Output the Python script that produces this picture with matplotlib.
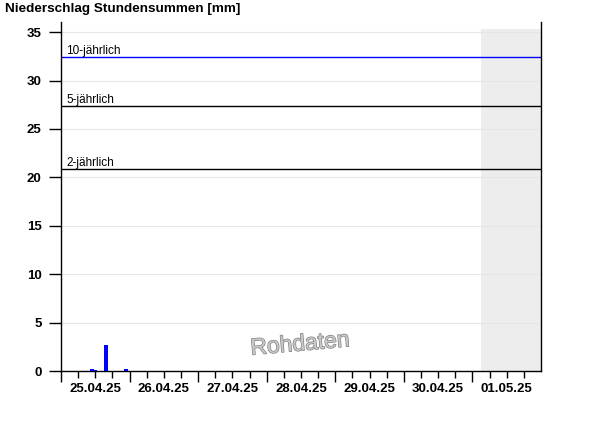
import matplotlib
matplotlib.use("Agg")
import matplotlib.pyplot as plt
import matplotlib.patheffects as pe
from matplotlib.transforms import blended_transform_factory

plt.rcParams['font.family'] = ['Liberation Sans', 'DejaVu Sans']

# Data (x in hours since 25.04.25 00:00)
bar_hours = [10, 11, 15, 22]
bar_values = [0.2, 0.1, 2.7, 0.2]
day_labels = ["25.04.25", "26.04.25", "27.04.25", "28.04.25", "29.04.25", "30.04.25", "01.05.25"]
threshold_names = ["2-jährlich", "5-jährlich", "10-jährlich"]
threshold_values = [20.85, 27.35, 32.4]
threshold_colors = ["black", "black", "#0000ff"]
forecast_start_hour = 147  # 01.05.25 03:00
n_days = 7

fig = plt.figure(figsize=(6.0, 4.26), dpi=100)
ax = fig.add_axes([61/600, 1-371/426, 480/600, (371-22)/426])

ax.set_xlim(0, n_days)
ax.set_ylim(0, 36.05)

# forecast shading
ax.axvspan(forecast_start_hour/24, n_days, ymin=0, ymax=35.3/36.05, color='#ededed', lw=0, zorder=0)

# grid
for v in range(5, 40, 5):
    ax.axhline(v, color='#e6e6e6', lw=0.8, zorder=0.5)

# bars
ax.bar([h/24 for h in bar_hours], bar_values, width=1.45/24, align='edge',
       color='#0000ff', lw=0, zorder=3)

# thresholds
for name, val, col in zip(threshold_names, threshold_values, threshold_colors):
    ax.axhline(val, color=col, lw=1.0, zorder=2)
    ax.text(5/480*n_days, val + 0.05, name, fontsize=8.5, color='black',
            ha='left', va='bottom', zorder=4)

# spines
ax.spines['top'].set_visible(False)
for s in ['left', 'right', 'bottom']:
    ax.spines[s].set_linewidth(1.0)
    ax.spines[s].set_color('black')

# y ticks
ax.set_yticks(range(0, 40, 5))
ax.tick_params(axis='y', direction='out', length=9, width=1, pad=5, labelsize=9.5)
for lbl in ax.get_yticklabels():
    lbl.set_fontweight('bold')

# x ticks
ax.set_xticks(range(0, n_days))
ax.set_xticks([d + q for d in range(n_days) for q in (0.25, 0.5, 0.75)], minor=True)
ax.tick_params(axis='x', which='major', direction='out', length=8, width=1, labelbottom=False)
ax.tick_params(axis='x', which='minor', direction='out', length=5, width=1, labelbottom=False)

tr = blended_transform_factory(ax.transData, fig.transFigure)
for i, lab in enumerate(day_labels):
    ax.text(i + 0.5, 1 - 389/426, lab, transform=tr, ha='center', va='center',
            fontsize=9.5, fontweight='bold')

# title
fig.text(5/600, 1 - 9/426, "Niederschlag Stundensummen [mm]", ha='left', va='center',
         fontsize=9.7, fontweight='bold')

# watermark
fig.text(300/600, 1 - 344/426, "Rohdaten", ha='center', va='center', fontsize=16.5,
         rotation=5, color='#c8c8c8',
         path_effects=[pe.withStroke(linewidth=0.9, foreground='#7a7a7a')])

fig.savefig("out.png", dpi=100)
